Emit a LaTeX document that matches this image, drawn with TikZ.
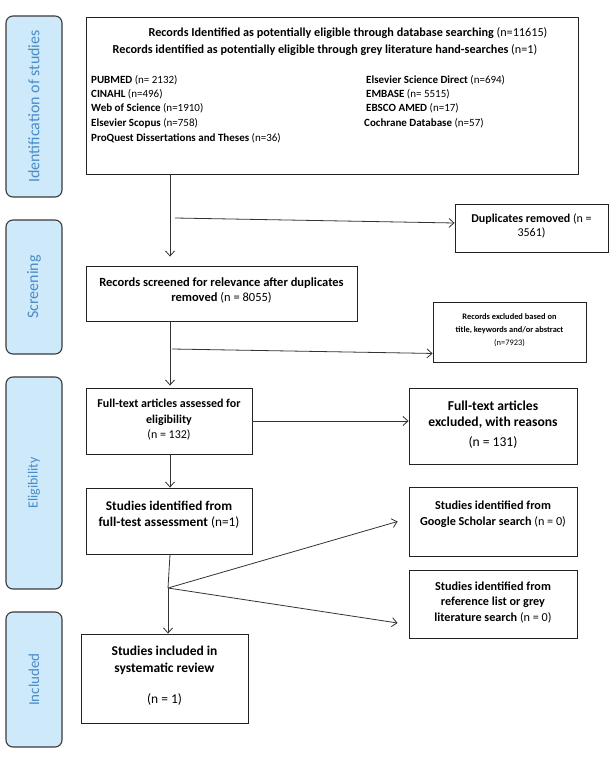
\documentclass[tikz,border=0pt]{standalone}
\usepackage{fontspec}
\setmainfont{Carlito}
\usetikzlibrary{arrows.meta}
\definecolor{sidefill}{HTML}{CDE9FA}
\definecolor{sidetext}{HTML}{4A8CC8}
\definecolor{sideline}{HTML}{3A3A3A}
\definecolor{lncol}{HTML}{333333}
\definecolor{boxline}{HTML}{222222}
\begin{document}
\begin{tikzpicture}[x=1pt,y=-1pt,
  side/.style={draw=sideline, line width=1.1pt, fill=sidefill, rounded corners=7pt,
    rotate=90, text=sidetext, inner sep=0},
  box/.style={draw=boxline, line width=0.9pt, inner sep=0},
  txt/.style={inner sep=0, align=center},
  conn/.style={draw=lncol, line width=0.8pt},
  arr/.style={conn, -{Straight Barb[length=5pt,width=9pt]}},
]
\useasboundingbox[fill=white] (0,0) rectangle (613,757);

% side stage labels
\node[side, minimum width=181, minimum height=56, font=\fontsize{16}{18}\selectfont] (s1) at (34,106.5) {Identification of studies};
\node[side, minimum width=134, minimum height=56, font=\fontsize{16}{18}\selectfont] (s2) at (34,287) {Screening};
\node[side, minimum width=212, minimum height=56, font=\fontsize{14}{16}\selectfont] (s3) at (34,483) {Eligibility};
\node[side, minimum width=135, minimum height=56, font=\fontsize{15}{17}\selectfont] (s4) at (34,679.5) {Included};

% boxes
\node[box, minimum width=492, minimum height=157] (big) at (332,95.5) {};
\node[box, minimum width=153, minimum height=48] (dup) at (531.5,228) {};
\node[box, minimum width=271, minimum height=55] (scr) at (221.5,293.5) {};
\node[box, minimum width=153, minimum height=60] (rex) at (509.5,332) {};
\node[box, minimum width=166, minimum height=66] (fta) at (169,421) {};
\node[box, minimum width=168, minimum height=76] (fex) at (493,426) {};
\node[box, minimum width=166, minimum height=66] (sid) at (169,521) {};
\node[box, minimum width=168, minimum height=69] (goo) at (493,521.5) {};
\node[box, minimum width=168, minimum height=68] (ref) at (493,604) {};
\node[box, minimum width=167, minimum height=89] (inc) at (164.5,678.5) {};

\begin{scope}[every node/.style={txt}]
\node[font=\fontsize{12.2}{14}\selectfont] (b1) at (348,33) {\textbf{Records Identified as potentially eligible through database searching} (n=11615)};
\node[font=\fontsize{12.2}{14}\selectfont] (b2) at (325,50) {\textbf{Records identified as potentially eligible through grey literature hand-searches} (n=1)};
\begin{scope}[every node/.style={txt, anchor=west, font=\fontsize{11}{12}\selectfont}]
\node (l1) at (91,80) {\textbf{PUBMED} (n= 2132)};
\node (l2) at (91,94) {\textbf{CINAHL} (n=496)};
\node (l3) at (91,108) {\textbf{Web of Science} (n=1910)};
\node (l4) at (91,123) {\textbf{Elsevier Scopus} (n=758)};
\node (l5) at (91,138) {\textbf{ProQuest Dissertations and Theses} (n=36)};
\node (r1) at (366,80) {\textbf{Elsevier Science Direct} (n=694)};
\node (r2) at (366,94) {\textbf{EMBASE} (n= 5515)};
\node (r3) at (366,108) {\textbf{EBSCO AMED} (n=17)};
\node (r4) at (364,123) {\textbf{Cochrane Database} (n=57)};
\end{scope}

\node[font=\fontsize{12}{14}\selectfont] (tdup) at (531.5,226) {\textbf{Duplicates removed} (n =\\3561)};
\node[font=\fontsize{12.5}{15}\selectfont] (tscr) at (221.5,290.5) {\textbf{Records screened for relevance after duplicates}\\\textbf{removed} (n = 8055)};
\node[font=\fontsize{8.4}{13}\selectfont] (trex) at (509.5,330) {\textbf{Records excluded based on}\\\textbf{title, keywords and/or abstract}\\(n=7923)};
\node[font=\fontsize{12}{15.5}\selectfont] (tfta) at (169,420) {\textbf{Full-text articles assessed for}\\\textbf{eligibility}\\(n = 132)};
\node[font=\fontsize{13.6}{16}\selectfont] (tfex) at (493,424.5) {\textbf{Full-text articles}\\\textbf{excluded, with reasons}\\[4pt](n = 131)};
\node[font=\fontsize{13.3}{16}\selectfont] (tsid) at (169,515) {\textbf{Studies identified from}\\\textbf{full-test assessment} (n=1)};
\node[font=\fontsize{12.2}{16}\selectfont] (tgoo) at (493,514) {\textbf{Studies identified from}\\\textbf{Google Scholar search} (n = 0)};
\node[font=\fontsize{12.2}{15.5}\selectfont] (tref) at (493,602.5) {\textbf{Studies identified from}\\\textbf{reference list or grey}\\\textbf{literature search} (n = 0)};
\node[font=\fontsize{13.5}{17}\selectfont] (tinc) at (164.5,660.5) {\textbf{Studies included in}\\\textbf{systematic review}};
\node[font=\fontsize{13.5}{14}\selectfont] (tinc2) at (164.5,699) {(n = 1)};
\end{scope}

% connectors
\coordinate (tr) at (170,0);
\coordinate (j1) at (175,218);
\coordinate (j2) at (172,349);
\coordinate (br) at (168,588);
\draw[arr, shorten >=9pt] (big.south -| tr) -- (scr.north -| tr);
\draw[arr] (j1) -- ([yshift=5pt]dup.west);
\draw[arr, shorten >=2pt] (scr.south -| tr) -- (fta.north -| tr);
\draw[arr] (j2) -- ([yshift=9pt]rex.south west);
\draw[arr] (fta.east) -- (fta.east -| fex.west);
\draw[arr] (fta.south -| tr) -- (sid.north -| tr);
\draw[conn] (sid.south -| tr) -- (br);
\draw[arr] (br) -- (inc.north -| br);
\draw[arr] (br) -- ([xshift=-11pt]goo.west);
\draw[arr] (br) -- ([xshift=-11pt,yshift=-19pt]ref.west);
\end{tikzpicture}
\end{document}
